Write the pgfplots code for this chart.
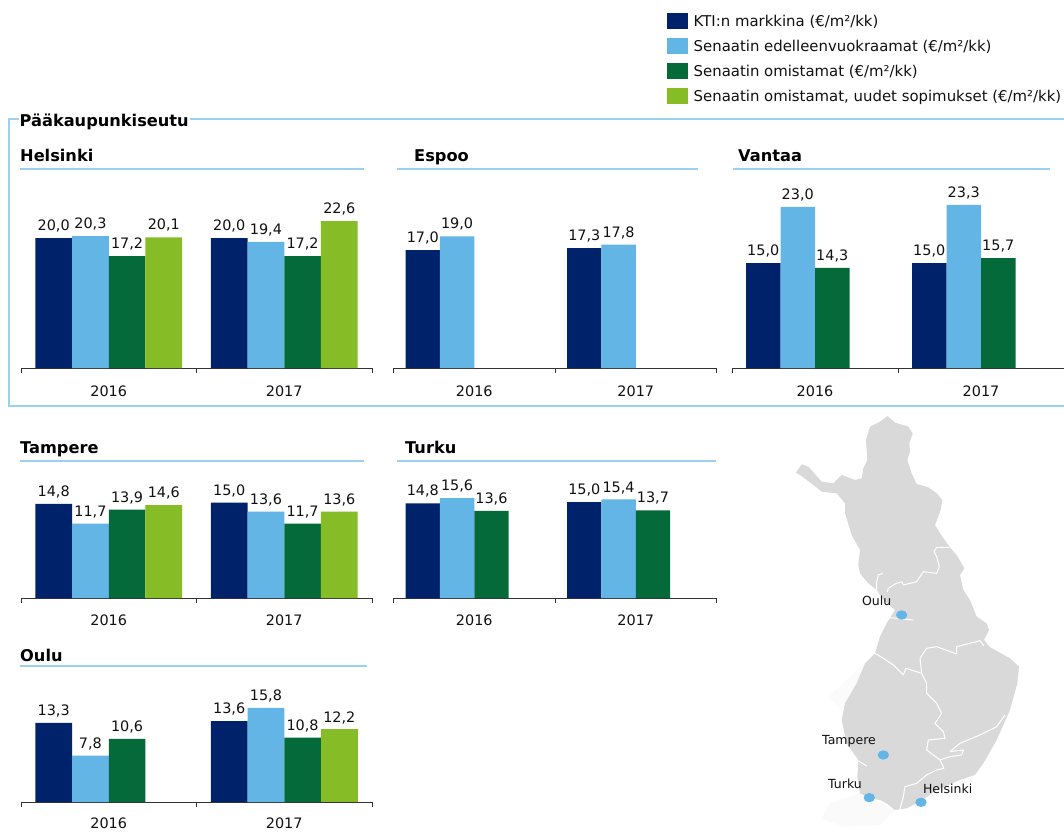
\documentclass[border=0pt]{standalone}
\usepackage{fontspec}
\setmainfont{DejaVu Sans}
\usepackage{pgfplots}
\pgfplotsset{compat=1.18}
\definecolor{navy}{HTML}{00226A}
\definecolor{sky}{HTML}{63B5E6}
\definecolor{forest}{HTML}{056A3A}
\definecolor{lime}{HTML}{86BC25}
\definecolor{rule}{HTML}{9CD0F0}
\definecolor{landgray}{HTML}{D9D9D9}
\definecolor{txt}{HTML}{111111}
\newcommand{\lab}{\fontsize{14.4}{17}\selectfont}
\newcommand{\leg}{\fontsize{14.9}{17}\selectfont}
\newcommand{\bhead}{\fontsize{16.2}{19}\selectfont\bfseries}
\pgfplotsset{
  panel/.style={
    scale only axis, clip=false,
    xmin=0, xmax=2, ymin=0, ymax=25,
    axis x line*=bottom, axis y line=none,
    x axis line style={-, color=black!80, line width=0.8pt},
    xtick={0.5,1.5}, xticklabels={2016,2017},
    major x tick style={draw=none},
    minor xtick={0,1,2},
    minor tick length=4.5pt,
    minor x tick style={color=black!80, line width=0.8pt},
    tick align=outside,
    ytick=\empty,
    xticklabel style={font=\lab, text=txt, yshift=#1, inner sep=0pt},
    nodes near coords,
    every node near coord/.append style={font=\lab, text=txt, inner sep=0pt, yshift=5.5pt, anchor=south},
    /pgf/number format/.cd, fixed, fixed zerofill, precision=1, use comma, assume math mode=true,
    /pgfplots/.cd,
    area legend,
    legend image code/.code={\fill[##1,draw=none] (0pt,-8pt) rectangle (21pt,8pt);},
  },
  s1/.style={ybar, fill=navy, draw=none, bar width=#1, bar shift={-1.5*#1}, nodes near coords style={xshift={-1.5*#1}}},
  s2/.style={ybar, fill=sky, draw=none, bar width=#1, bar shift={-0.5*#1}, nodes near coords style={xshift={-0.5*#1}}},
  s3/.style={ybar, fill=forest, draw=none, bar width=#1, bar shift={0.5*#1}, nodes near coords style={xshift={0.5*#1}}},
  s4/.style={ybar, fill=lime, draw=none, bar width=#1, bar shift={1.5*#1}, nodes near coords style={xshift={1.5*#1}}},
}
\begin{document}
\begin{tikzpicture}[x=1pt,y=1pt]
\path[use as bounding box] (0,0) rectangle (1064,831);
\fill[white] (0,0) rectangle (1064,831);

% Finland map, traced in a 3x frame
\begin{scope}[shift={(780,421)}, x=0.3333pt, y=-0.3333pt]
\fill[landgray!14] (125,1225) -- (150,1180) -- (240,1150) -- (345,1200) -- (300,1245) -- (190,1250) -- cycle;
\fill[landgray!10] (145,860) -- (195,815) -- (250,760) -- (235,830) -- (185,900) -- cycle;
\fill[landgray] (323,18) -- (345,38) -- (385,50) -- (398,70) -- (388,100) -- (390,125) -- (382,150) -- (395,190) -- (410,222) -- (445,232) -- (470,250) -- (487,270) -- (482,300) -- (465,345) -- (480,370) -- (508,410) -- (530,435) -- (553,475) -- (540,495) -- (550,540) -- (570,570) -- (590,620) -- (620,640) -- (627,660) -- (612,690) -- (630,712) -- (690,745) -- (717,770) -- (712,820) -- (690,900) -- (650,990) -- (610,1060) -- (585,1095) -- (540,1110) -- (470,1140) -- (420,1175) -- (380,1195) -- (345,1200) -- (320,1180) -- (300,1170) -- (270,1165) -- (240,1150) -- (232,1100) -- (235,1050) -- (200,1000) -- (185,930) -- (195,880) -- (230,820) -- (255,760) -- (285,730) -- (300,680) -- (320,640) -- (345,600) -- (310,570) -- (290,540) -- (265,520) -- (240,490) -- (235,465) -- (240,420) -- (215,375) -- (195,310) -- (195,280) -- (170,250) -- (125,245) -- (100,225) -- (60,195) -- (48,188) -- (65,163) -- (85,170) -- (125,215) -- (160,220) -- (185,195) -- (225,210) -- (245,205) -- (250,175) -- (262,150) -- (258,90) -- (270,50) -- (300,35) -- cycle;
\begin{scope}[white, line width=1pt, line join=round]
\draw (308,490) -- (295,495) -- (290,515) -- (290,540);
\draw (322,545) -- (325,535) -- (345,522) -- (365,515) -- (370,525) -- (410,515) -- (430,485) -- (470,490) -- (478,470) -- (470,440) -- (462,425) -- (470,412) -- (508,412);
\draw (285,730) -- (310,745) -- (340,765) -- (370,795) -- (378,775) -- (425,790);
\draw (612,708) -- (600,692) -- (590,695) -- (530,710) -- (530,732) -- (470,710) -- (440,715) -- (420,745) -- (425,790) -- (440,820) -- (440,850) -- (470,880) -- (485,910) -- (465,940) -- (490,965) -- (495,985) -- (445,990) -- (440,1020) -- (480,1050) -- (492,1075) -- (470,1080) -- (440,1095) -- (410,1120) -- (375,1130) -- (370,1160) -- (360,1198);
\draw (675,915) -- (650,950) -- (600,975) -- (540,1000) -- (510,1025) -- (550,1020) -- (545,1035) -- (510,1040) -- (480,1050);
\draw (318,622) -- (350,625) -- (400,630);
\draw (230,1050) -- (260,1068);
\end{scope}
\foreach \p/\q in {365/615,310/1035,268/1163,423/1177}
  \fill[sky] (\p,\q) ellipse [x radius=17, y radius=14];
\node[font=\fontsize{12.5}{15}\selectfont, text=txt] at (290,574) {Oulu};
\node[font=\fontsize{12.5}{15}\selectfont, text=txt] at (207,995) {Tampere};
\node[font=\fontsize{12.5}{15}\selectfont, text=txt] at (195,1122) {Turku};
\node[font=\fontsize{12.5}{15}\selectfont, text=txt] at (503,1136) {Helsinki};
\end{scope}

% frame
\draw[rule, line width=1.2pt] (1064,712) -- (190,712);
\draw[rule, line width=1.2pt] (19,712) -- (9,712) -- (9,425) -- (1064,425);
\node[anchor=base west, inner sep=0pt, font=\bhead] at (19.5,704) {Pääkaupunkiseutu};

% panel headings
\node[anchor=base west, inner sep=0pt, font=\bhead] at (20,669) {Helsinki};
\draw[rule, line width=1.4pt] (20,662) -- (364,662);
\node[anchor=base west, inner sep=0pt, font=\bhead] at (414,669) {Espoo};
\draw[rule, line width=1.4pt] (397,662) -- (698,662);
\node[anchor=base west, inner sep=0pt, font=\bhead] at (738,669) {Vantaa};
\draw[rule, line width=1.4pt] (733,662) -- (1050,662);
\node[anchor=base west, inner sep=0pt, font=\bhead] at (20,378) {Tampere};
\draw[rule, line width=1.4pt] (20,370) -- (364,370);
\node[anchor=base west, inner sep=0pt, font=\bhead] at (405,378) {Turku};
\draw[rule, line width=1.4pt] (397,370) -- (716,370);
\node[anchor=base west, inner sep=0pt, font=\bhead] at (20,170) {Oulu};
\draw[rule, line width=1.4pt] (20,165) -- (367,165);

% Helsinki
\begin{axis}[panel=-13.5pt, at={(21pt,463pt)}, anchor=south west, width=351pt, height=162.5pt,
  legend style={at={(1.8390,2.1846)}, anchor=north west, draw=none, fill=none, font=\leg, text=txt,
    row sep=9pt, inner sep=0pt, nodes={inner sep=1pt, inner xsep=6pt}}, legend cell align=left]
\addplot[s1=36.7pt] coordinates {(0.5,20.0) (1.5,20.0)};
\addplot[s2=36.7pt] coordinates {(0.5,20.3) (1.5,19.4)};
\addplot[s3=36.7pt] coordinates {(0.5,17.2) (1.5,17.2)};
\addplot[s4=36.7pt] coordinates {(0.5,20.1) (1.5,22.6)};
\legend{KTI:n markkina (€/m²/kk),Senaatin edelleenvuokraamat (€/m²/kk),Senaatin omistamat (€/m²/kk),{Senaatin omistamat, uudet sopimukset (€/m²/kk)}}
\end{axis}
% Espoo
\begin{axis}[panel=-13.5pt, at={(393.5pt,463pt)}, anchor=south west, width=323pt, height=173.25pt]
\addplot[s1=34.3pt] coordinates {(0.5,17.0) (1.5,17.3)};
\addplot[s2=34.3pt] coordinates {(0.5,19.0) (1.5,17.8)};
\end{axis}
% Vantaa
\begin{axis}[panel=-13.5pt, at={(732pt,463pt)}, anchor=south west, width=332pt, height=175pt]
\addplot[s1=34.5pt] coordinates {(0.5,15.0) (1.5,15.0)};
\addplot[s2=34.5pt] coordinates {(0.5,23.0) (1.5,23.3)};
\addplot[s3=34.5pt] coordinates {(0.5,14.3) (1.5,15.7)};
\end{axis}
% Tampere
\begin{axis}[panel=-12pt, at={(21pt,233pt)}, anchor=south west, width=351pt, height=159pt]
\addplot[s1=36.7pt] coordinates {(0.5,14.8) (1.5,15.0)};
\addplot[s2=36.7pt] coordinates {(0.5,11.7) (1.5,13.6)};
\addplot[s3=36.7pt] coordinates {(0.5,13.9) (1.5,11.7)};
\addplot[s4=36.7pt] coordinates {(0.5,14.6) (1.5,13.6)};
\end{axis}
% Turku
\begin{axis}[panel=-12pt, at={(393.5pt,233pt)}, anchor=south west, width=323pt, height=160pt]
\addplot[s1=34.3pt] coordinates {(0.5,14.8) (1.5,15.0)};
\addplot[s2=34.3pt] coordinates {(0.5,15.6) (1.5,15.4)};
\addplot[s3=34.3pt] coordinates {(0.5,13.6) (1.5,13.7)};
\end{axis}
% Oulu
\begin{axis}[panel=-11pt, at={(21pt,29pt)}, anchor=south west, width=351pt, height=148.75pt]
\addplot[s1=36.7pt] coordinates {(0.5,13.3) (1.5,13.6)};
\addplot[s2=36.7pt] coordinates {(0.5,7.8) (1.5,15.8)};
\addplot[s3=36.7pt] coordinates {(0.5,10.6) (1.5,10.8)};
\addplot[s4=36.7pt] coordinates {(1.5,12.2)};
\end{axis}
\end{tikzpicture}
\end{document}
